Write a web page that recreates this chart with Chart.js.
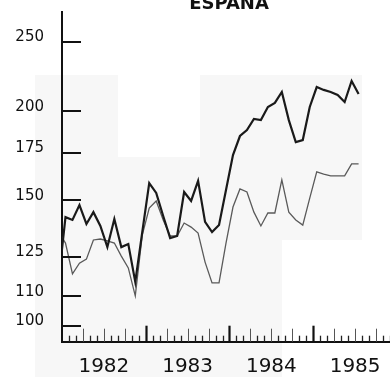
<!DOCTYPE html>
<html>
<head>
<meta charset="utf-8">
<script src="https://cdn.jsdelivr.net/npm/chart.js@4.4.0/dist/chart.umd.min.js"></script>
<style>
  html, body { margin: 0; padding: 0; background: #fff; overflow: hidden; }
</style>
</head>
<body>
<canvas id="grafico" width="390" height="377"></canvas>
<script>
const titulo = "ESPAÑA";
const anos = ["1982", "1983", "1984", "1985"];
const yTicks = [100, 110, 125, 150, 175, 200, 250];

// mensal: primeiro valor = dez/1981 (cortado pelo eixo), depois jan/1982 .. jul/1985
const serieEscura = [
    115.6, 142.1, 140.8, 147.7, 139.0, 144.4, 138.1, 129.0, 141.2, 129.0, 130.3, 115.3, 135.4,
    158.6, 153.6, 142.6, 132.8, 133.7, 154.1, 149.7, 159.7, 139.9, 135.4, 138.5, 155.1,
    173.6, 184.6, 188.2, 195.0, 194.3, 202.7, 205.4, 212.8, 194.3, 181.0, 182.2, 202.7,
    216.2, 214.2, 212.8, 210.7, 206.0, 220.5, 211.4
];
const serieClara = [
    135.4, 130.7, 118.3, 122.5, 124.1, 132.0, 132.4, 131.6, 130.7, 125.3, 120.6, 110.2, 134.1,
    146.3, 149.7, 140.8, 133.7, 133.7, 139.4, 137.6, 135.0, 122.9, 114.9, 114.9, 130.7,
    146.8, 155.6, 154.1, 144.4, 138.1, 144.0, 144.0, 160.2, 144.4, 140.8, 138.5, 151.1,
    164.4, 163.3, 162.3, 162.3, 162.3, 168.7, 168.7
];

const pontos = serie => serie.map((v, i) => ({ x: i - 0.5, y: v }));

// fundo levemente acinzentado da cópia escaneada
const fundo = {
    id: "fundo",
    beforeDraw(chart) {
        const ctx = chart.ctx;
        ctx.save();
        ctx.fillStyle = "#fff";
        ctx.fillRect(0, 0, chart.width, chart.height);
        ctx.fillStyle = "#f7f7f7";
        ctx.fillRect(35, 75, 247, 302);
        ctx.fillRect(282, 75, 80, 165);
        ctx.fillStyle = "#fff";
        ctx.fillRect(118, 75, 82, 82);
        ctx.restore();
    }
};

// marcas dos eixos (para dentro) e titulo
const marcas = {
    id: "marcas",
    afterDraw(chart) {
        const { ctx, chartArea: a, scales: { x, y } } = chart;
        ctx.save();
        ctx.strokeStyle = "#111";
        ctx.lineWidth = 2;
        ctx.beginPath();
        yTicks.forEach(v => {
            const py = Math.round(y.getPixelForValue(v));
            ctx.moveTo(a.left, py);
            ctx.lineTo(a.left + 19, py);
        });
        ctx.stroke();

        for (let m = 1; m <= 47; m++) {
            const px = Math.round(x.getPixelForValue(m)) + 0.5;
            let h = 6, w = 1.3, cor = "#222";
            if (m % 12 === 0) { h = 16; w = 2.2; cor = "#111"; }
            else if (m % 3 === 0) { h = 13; w = 1; cor = "#555"; }
            ctx.strokeStyle = cor;
            ctx.lineWidth = w;
            ctx.beginPath();
            ctx.moveTo(px, a.bottom);
            ctx.lineTo(px, a.bottom - h);
            ctx.stroke();
        }

        ctx.fillStyle = "#111";
        ctx.font = "bold 18px 'DejaVu Sans'";
        ctx.textAlign = "center";
        ctx.textBaseline = "alphabetic";
        ctx.fillText(titulo, 229, 8.5);
        ctx.restore();
    }
};

const ctx = document.getElementById("grafico").getContext("2d");

new Chart(ctx, {
    type: "line",
    data: {
        datasets: [
            {
                data: pontos(serieEscura),
                borderColor: "#1a1a1a",
                borderWidth: 2.2,
                pointRadius: 0,
                tension: 0,
                fill: false
            },
            {
                data: pontos(serieClara),
                borderColor: "#5a5a5a",
                borderWidth: 1.3,
                pointRadius: 0,
                tension: 0,
                fill: false
            }
        ]
    },
    options: {
        responsive: false,
        devicePixelRatio: 1,
        animation: false,
        layout: { padding: { top: 12, right: 0, left: 0, bottom: 0 } },
        plugins: {
            legend: { display: false },
            tooltip: { enabled: false }
        },
        scales: {
            x: {
                type: "linear",
                min: 0,
                max: 47,
                grid: { display: false },
                border: { display: true, color: "#111", width: 2 },
                afterBuildTicks: s => { s.ticks = anos.map((_, i) => ({ value: i * 12 + 6 })); },
                afterFit: s => { s.height = 35.3; s.paddingLeft = 0; s.paddingRight = 0; },
                ticks: {
                    autoSkip: false,
                    maxRotation: 0,
                    padding: 5,
                    color: "#111",
                    font: { family: "'DejaVu Sans'", size: 20 },
                    callback: v => anos[Math.floor(v / 12)]
                }
            },
            y: {
                type: "logarithmic",
                min: 95.07,
                max: 275.4,
                grid: { display: false },
                border: { display: true, color: "#111", width: 2 },
                afterBuildTicks: s => { s.ticks = yTicks.map(v => ({ value: v })); },
                afterFit: s => { s.width = 62; s.paddingTop = 0; s.paddingBottom = 0; },
                ticks: {
                    padding: 10,
                    labelOffset: -4.5,
                    color: "#111",
                    font: { family: "'DejaVu Sans'", size: 15 },
                    callback: v => String(v)
                }
            }
        }
    },
    plugins: [fundo, marcas]
});
</script>
</body>
</html>
